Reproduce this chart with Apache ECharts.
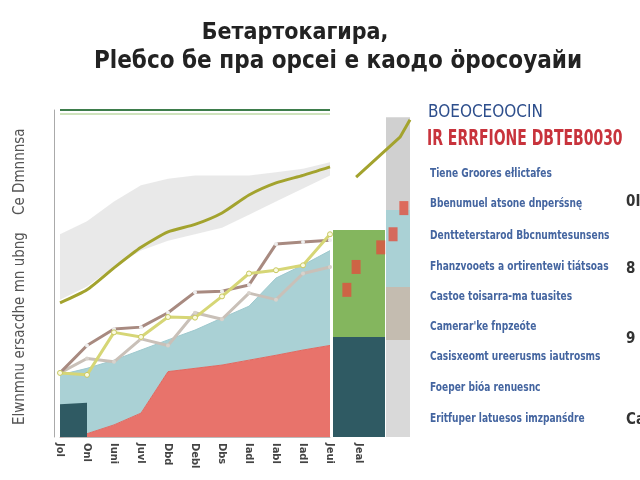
<!DOCTYPE html>
<html>
<head>
<meta charset="utf-8">
<script src="https://cdn.jsdelivr.net/npm/echarts@6/dist/echarts.min.js"></script>
<style>
  html, body { margin: 0; padding: 0; background: #fff; }
  #main { width: 640px; height: 480px; }
</style>
</head>
<body>
<div id="main"></div>
<script>
// categories (x axis labels)
const months = ['Jol', 'Onl', 'Iuni', 'Juvl', 'Dbd', 'Debl', 'Dbs', 'Iadl', 'Iabl', 'Iadl', 'Jeui'];
const rightCats = ['Jeal'];

// stacked areas
const redArea = [0, 1, 3.7, 7.3, 20, 21, 22, 23.5, 25, 26.6, 28];
const blueArea = [19, 20, 19.8, 19.3, 9.7, 11.7, 14.4, 16.5, 23.6, 26, 29];
const tealBlock = [10, 10.5, '-', '-', '-', '-', '-', '-', '-', '-', '-'];

// grey band round the trend line
const bandLow = [42, 46, 52, 57, 60, 62, 64, 68, 72, 76, 80];
const bandHigh = [62, 66, 72, 77, 79, 80, 80, 80, 81, 82, 84];

// lines
const oliveLine = [41, 45, 51.7, 58, 62.7, 65, 68.5, 74, 77.7, 80, 82.6];
const brownLine = [19.6, 28, 33, 33.6, 38, 44.3, 44.6, 46.5, 59, 59.6, 60.2];
const greyLine = [19.6, 24, 23, 30, 28, 38, 36, 44, 42, 50, 52];
const yellowLine = [19.6, 19, 32, 30.6, 36.7, 36.5, 43, 50, 51, 52.5, 62];

// right columns
const wideTeal = [30.6];
const wideGreen = [32.7];
const colLight = [29.7];
const colTan = [16.2];
const colBlue = [23.5];
const colGrey = [28.4];
const oliveTail = [[0.3, 79.5], [0.87, 91.7], [1, 97]];
const redMarks = [[0.18, 45], [0.3, 52], [0.62, 58], [0.78, 62], [0.92, 70]];

// legend-like text list
const listItems = [
  'Tiene Groores ełlictafes',
  'Bbenumuel atsone dnperśsnę',
  'Dentteterstarod Bbcnumtesunsens',
  'Fhanzvooets a ortirentewi tiátsoas',
  'Castoe toisarra-ma tuasites',
  'Camerar\'ke fnpzeóte',
  'Casisxeomt ureerusms iautrosms',
  'Foeper bióa renuesnc',
  'Eritfuper latuesos imzpanśdre'
];
const listY = [175, 205, 237, 268, 298, 328, 358, 389, 420];
const sideNums = ['0I', '8', '9', 'Ca'];
const sideNumY = [203, 270, 340, 421];

const font = '"DejaVu Sans Condensed", "Liberation Sans Narrow", sans-serif';
const chart = echarts.init(document.getElementById('main'));

const hiddenY = (i) => ({
  type: 'value', gridIndex: i, min: 0, max: 100, show: false
});

const graphics = [];
listItems.forEach((t, i) => {
  graphics.push({
    type: 'text', x: 430, y: listY[i] - 7, scaleX: 0.84,
    style: { text: t, font: 'bold 12px ' + font, fill: '#4465a0' }
  });
});
sideNums.forEach((t, i) => {
  graphics.push({
    type: 'text', left: 626, top: sideNumY[i] - 8,
    style: { text: t, font: 'bold 15px ' + font, fill: '#333' }
  });
});
graphics.push({
  type: 'text', x: 428, y: 104,
  style: { text: 'BOEOCEOOCIN', font: '17px ' + font, fill: '#2d4e8c' }
});
graphics.push({
  type: 'text', x: 427, y: 129, scaleX: 0.74,
  style: { text: 'IR ERRFIONE DBTEB0030', font: 'bold 21px ' + font, fill: '#c8333c' }
});
graphics.push({
  type: 'text', x: 13, y: 425, rotation: Math.PI / 2,
  style: { text: 'Elwnmnu ersacdhe mn ubng    Ce Dmnnnsa', font: '15px ' + font, fill: '#555' }
});

const option = {
  backgroundColor: '#fff',
  animation: false,
  title: [
    {
      text: 'Бетартокагира,', left: 290, top: 17, textAlign: 'center',
      textStyle: { fontFamily: font, fontWeight: 'bold', fontSize: 23, color: '#222' }
    },
    {
      text: 'Plебсо бе пра орсеі е каодо öросоуайи', left: 333, top: 45, textAlign: 'center',
      textStyle: { fontFamily: font, fontWeight: 'bold', fontSize: 24, color: '#222' }
    }
  ],
  graphic: graphics,
  grid: [
    { left: 60, right: 310, top: 110, bottom: 43 },
    { left: 333, right: 255, top: 110, bottom: 43 },
    { left: 386, right: 230, top: 110, bottom: 43 },
    { left: 333, right: 230, top: 110, bottom: 43 }
  ],
  xAxis: [
    {
      type: 'category', gridIndex: 0, data: months, boundaryGap: false,
      axisLine: { lineStyle: { color: '#bbb' } }, axisTick: { show: false },
      axisLabel: { rotate: -90, interval: 0, margin: 6, color: '#444', fontWeight: 'bold', fontSize: 11, fontFamily: font }
    },
    {
      type: 'category', gridIndex: 1, data: rightCats,
      axisLine: { show: false }, axisTick: { show: false },
      axisLabel: { rotate: -90, interval: 0, margin: 6, color: '#444', fontWeight: 'bold', fontSize: 11, fontFamily: font }
    },
    { type: 'category', gridIndex: 2, data: [''], show: false },
    { type: 'value', gridIndex: 3, min: 0, max: 1, show: false }
  ],
  yAxis: [
    {
      type: 'value', gridIndex: 0, min: 0, max: 100, offset: 6,
      axisLine: { show: true, lineStyle: { color: '#aaa' } },
      axisTick: { show: false }, axisLabel: { show: false },
      splitLine: { show: false }
    },
    hiddenY(1), hiddenY(2), hiddenY(3)
  ],
  series: [
    {
      type: 'line', stack: 'band', data: bandLow, symbol: 'none',
      lineStyle: { width: 0 }, areaStyle: { color: 'rgba(0,0,0,0)' }, z: 1
    },
    {
      type: 'line', stack: 'band', data: bandHigh.map((v, i) => v - bandLow[i]), symbol: 'none',
      lineStyle: { width: 0 }, areaStyle: { color: '#e4e4e4', opacity: 0.8 }, z: 1
    },
    {
      type: 'line', stack: 'area', data: redArea, symbol: 'none',
      lineStyle: { width: 1, color: '#e06860' }, areaStyle: { color: '#e8736b', opacity: 1 }, z: 2
    },
    {
      type: 'line', stack: 'area', data: blueArea, symbol: 'none',
      lineStyle: { width: 1, color: '#9ec9ce' }, areaStyle: { color: '#aad1d5', opacity: 1 }, z: 2
    },
    {
      type: 'line', data: tealBlock, symbol: 'none',
      lineStyle: { width: 0 }, areaStyle: { color: '#2f5a63', opacity: 1 }, z: 3
    },
    {
      type: 'line', data: oliveLine, symbol: 'none', smooth: 0.2,
      lineStyle: { width: 3, color: '#a3a32e' }, z: 6,
      markLine: {
        silent: true, symbol: 'none', label: { show: false },
        data: [
          { yAxis: 100, lineStyle: { color: '#3e7d4c', width: 2, type: 'solid' } },
          { yAxis: 99, lineStyle: { color: '#cfe3bd', width: 2, type: 'solid' } }
        ]
      }
    },
    {
      type: 'line', data: greyLine, symbol: 'circle', symbolSize: 4,
      itemStyle: { color: '#d8d2cc' },
      lineStyle: { width: 3, color: '#c9c0b8' }, z: 4
    },
    {
      type: 'line', data: brownLine, symbol: 'circle', symbolSize: 4,
      itemStyle: { color: '#eee' },
      lineStyle: { width: 3, color: '#a88a80' }, z: 5
    },
    {
      type: 'line', data: yellowLine, symbol: 'circle', symbolSize: 5,
      itemStyle: { color: '#fafae0', borderColor: '#c8c860' },
      lineStyle: { width: 3, color: '#d6d676' }, z: 5
    },
    {
      type: 'bar', xAxisIndex: 1, yAxisIndex: 1, stack: 'w', data: wideTeal,
      barWidth: '100%', itemStyle: { color: '#2f5a63' }
    },
    {
      type: 'bar', xAxisIndex: 1, yAxisIndex: 1, stack: 'w', data: wideGreen,
      barWidth: '100%', itemStyle: { color: '#84b65e' }
    },
    {
      type: 'bar', xAxisIndex: 2, yAxisIndex: 2, stack: 'c', data: colLight,
      barWidth: '100%', itemStyle: { color: '#d9d9d9' }
    },
    {
      type: 'bar', xAxisIndex: 2, yAxisIndex: 2, stack: 'c', data: colTan,
      barWidth: '100%', itemStyle: { color: '#c4bcb0' }
    },
    {
      type: 'bar', xAxisIndex: 2, yAxisIndex: 2, stack: 'c', data: colBlue,
      barWidth: '100%', itemStyle: { color: '#aad1d5' }
    },
    {
      type: 'bar', xAxisIndex: 2, yAxisIndex: 2, stack: 'c', data: colGrey,
      barWidth: '100%', itemStyle: { color: '#d0d0d0' }
    },
    {
      type: 'line', xAxisIndex: 3, yAxisIndex: 3, data: oliveTail, symbol: 'none',
      lineStyle: { width: 3, color: '#a3a32e' }, z: 6
    },
    {
      type: 'scatter', xAxisIndex: 3, yAxisIndex: 3, data: redMarks, symbol: 'rect',
      symbolSize: [9, 14], itemStyle: { color: '#e0503f' }, z: 7
    }
  ]
};

chart.setOption(option);
</script>
</body>
</html>
